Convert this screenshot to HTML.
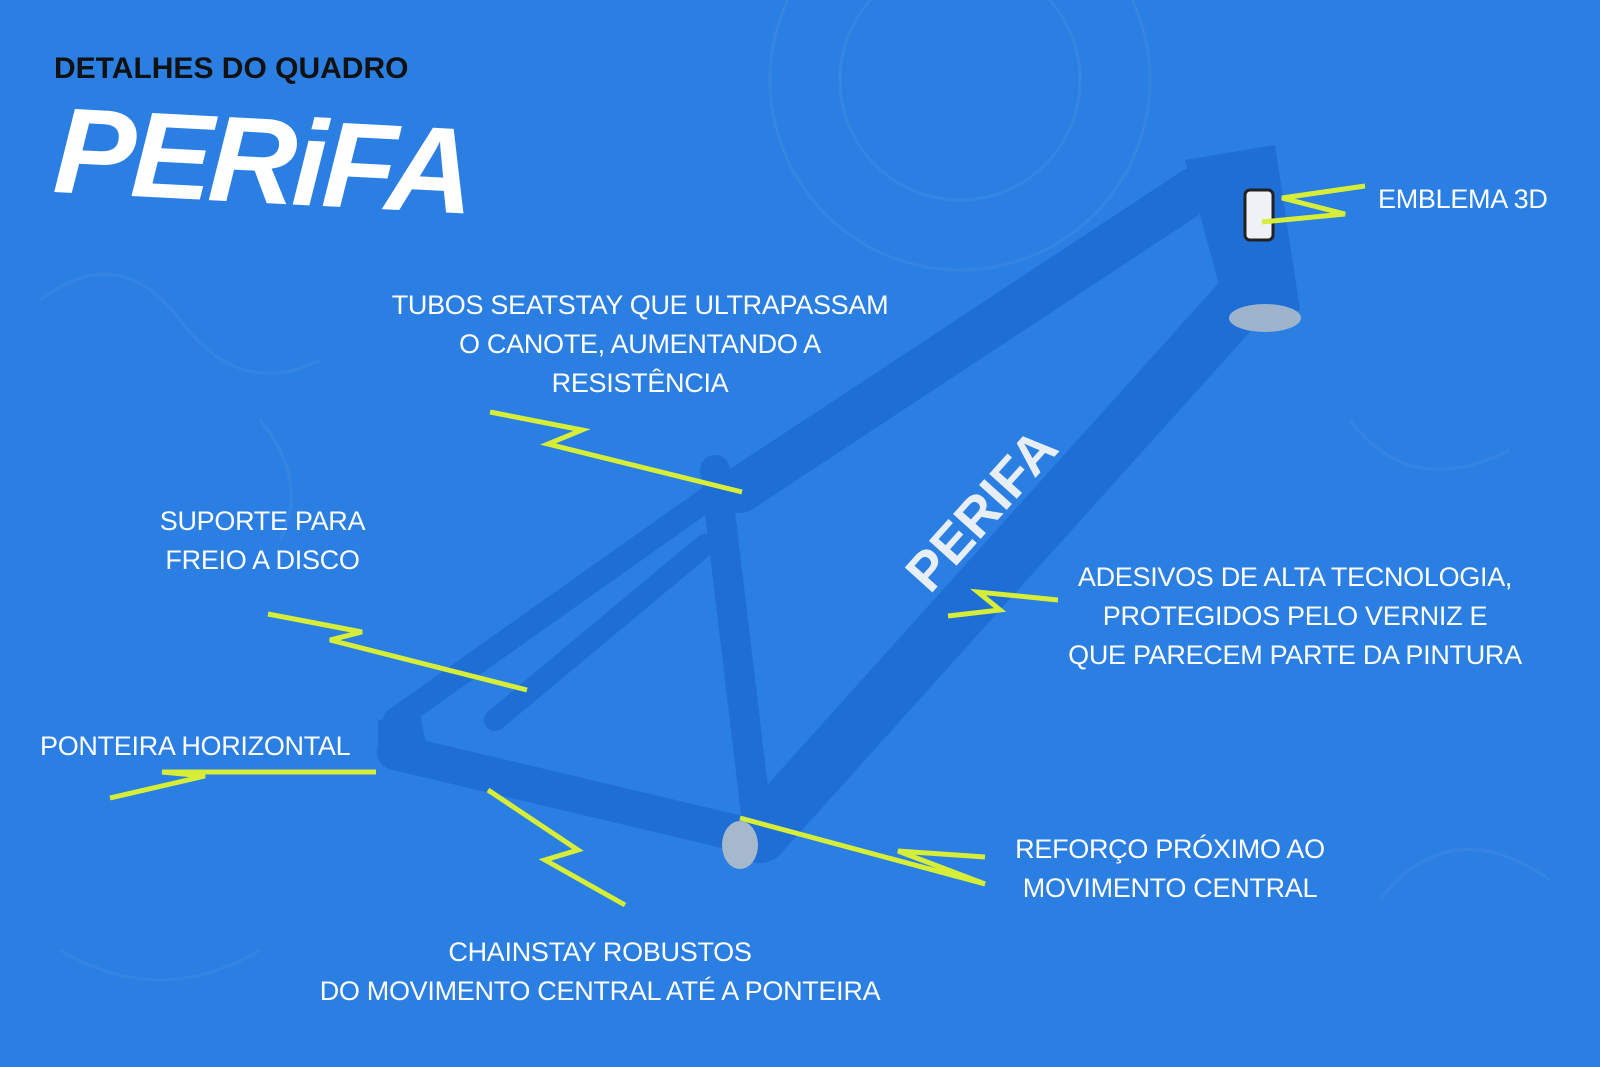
<!DOCTYPE html>
<html><head><meta charset="utf-8"><style>
html,body{margin:0;padding:0}
body{width:1600px;height:1067px;background:#2b7ee2;overflow:hidden;position:relative;font-family:"Liberation Sans Narrow","Liberation Sans",sans-serif}
.l{position:absolute;color:#fff;font-size:27px;line-height:39px;text-align:center;letter-spacing:-0.3px;white-space:nowrap}
</style></head><body>
<svg width="1600" height="1067" style="position:absolute;left:0;top:0">
<g fill="none" stroke="#3a88e6" stroke-width="3" opacity="0.7">
<circle cx="960" cy="80" r="190"/><circle cx="960" cy="80" r="120"/>
<path d="M40 300 q80 -60 140 20 t140 40"/><path d="M1350 420 q60 80 160 30"/><path d="M60 950 q100 60 200 0"/>
<path d="M1380 900 q70 -90 170 -20"/><path d="M260 420 q50 60 20 120"/>
</g>
<g stroke-linecap="round" fill="none">
<line x1="1195" y1="190" x2="740" y2="490" stroke="#1f6ed6" stroke-width="46"/>
<line x1="1250" y1="290" x2="760" y2="835" stroke="#1f6ed6" stroke-width="56"/>
<line x1="715" y1="470" x2="758" y2="830" stroke="#1f6ed6" stroke-width="30"/>
<line x1="720" y1="490" x2="395" y2="720" stroke="#1f6ed6" stroke-width="24"/>
<line x1="705" y1="545" x2="495" y2="720" stroke="#1f6ed6" stroke-width="22"/>
<line x1="395" y1="752" x2="745" y2="835" stroke="#1f6ed6" stroke-width="36"/>
</g>
<path d="M1185 160 L1275 145 L1300 310 L1230 325 Z" fill="#1f6ed6"/>
<ellipse cx="1265" cy="318" rx="36" ry="14" fill="#9db4cc"/>
<ellipse cx="740" cy="845" rx="18" ry="24" fill="#a5b8cc"/>
<path d="M378 720 L420 715 L430 760 L378 760 Z" fill="#1f6ed6"/>
<rect x="1245" y="190" width="28" height="50" rx="5" fill="#eef2f7" stroke="#222" stroke-width="3"/>
<text x="930" y="595" transform="rotate(-48 930 595)" font-family="Liberation Sans" font-weight="bold" font-size="54" fill="#e8eef6">PERIFA</text>
<g stroke="#d6ee38" stroke-width="5" fill="none" stroke-linejoin="miter">
<polyline points="1365,186 1282,198 1345,214 1262,222"/>
<polyline points="490,412 582,430 548,444 742,492"/>
<polyline points="268,614 362,632 330,640 527,690"/>
<polyline points="110,798 205,776 162,772 376,772"/>
<polyline points="1058,600 978,592 1000,610 948,616"/>
<polyline points="985,857 898,851 985,884 740,818"/>
<polyline points="488,790 578,850 545,860 625,905"/>
</g>
</svg>
<div style="position:absolute;left:54px;top:52px;font-size:30px;color:#111;font-family:'Liberation Sans Narrow','Liberation Sans',sans-serif;font-weight:bold">DETALHES DO QUADRO</div>
<div style="position:absolute;left:58px;top:80px;font-size:122px;color:#fff;font-family:'Liberation Sans',sans-serif;font-weight:bold;font-style:italic;letter-spacing:-4px;transform:rotate(3deg);transform-origin:left top">PERiFA</div>
<div class="l" style="left:1378px;top:180px">EMBLEMA 3D</div>
<div class="l" style="left:390px;top:286px;width:500px">TUBOS SEATSTAY QUE ULTRAPASSAM<br>O CANOTE, AUMENTANDO A<br>RESISTÊNCIA</div>
<div class="l" style="left:150px;top:502px;width:225px">SUPORTE PARA<br>FREIO A DISCO</div>
<div class="l" style="left:40px;top:727px">PONTEIRA HORIZONTAL</div>
<div class="l" style="left:1055px;top:558px;width:480px">ADESIVOS DE ALTA TECNOLOGIA,<br>PROTEGIDOS PELO VERNIZ E<br>QUE PARECEM PARTE DA PINTURA</div>
<div class="l" style="left:990px;top:830px;width:360px">REFORÇO PRÓXIMO AO<br>MOVIMENTO CENTRAL</div>
<div class="l" style="left:300px;top:933px;width:600px">CHAINSTAY ROBUSTOS<br>DO MOVIMENTO CENTRAL ATÉ A PONTEIRA</div>
</body></html>
